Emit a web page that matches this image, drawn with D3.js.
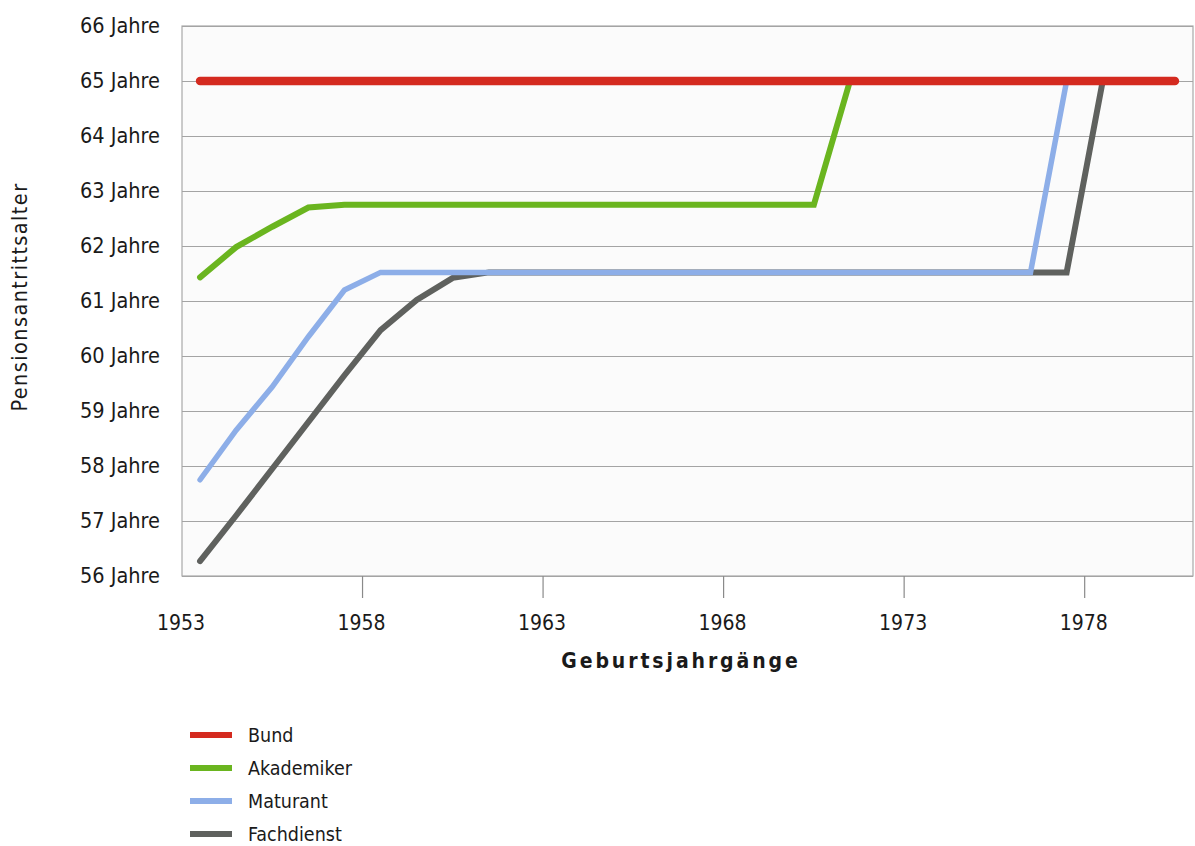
<!DOCTYPE html>
<html lang="de">
<head>
<meta charset="utf-8">
<title>Pensionsantrittsalter nach Geburtsjahrgängen</title>
<script src="https://cdn.jsdelivr.net/npm/d3@7"></script>
<style>
  html, body { margin: 0; padding: 0; background: #ffffff; }
  svg { display: block; }
  text { font-family: "DejaVu Sans Condensed", "DejaVu Sans", sans-serif; fill: #1a1a1a; }
</style>
</head>
<body>
<svg id="chart" width="1195" height="846"></svg>
<script>
// Birth cohorts (Geburtsjahrgänge)
const years = d3.range(1953, 1981);

// Retirement age per cohort, in years
const bund = years.map(() => 65);
const akademiker = [61.43, 61.98, 62.35, 62.7, 62.75, 62.75, 62.75, 62.75, 62.75, 62.75,
                    62.75, 62.75, 62.75, 62.75, 62.75, 62.75, 62.75, 62.75, 65, 65,
                    65, 65, 65, 65, 65, 65, 65, 65];
const maturant = [57.75, 58.65, 59.44, 60.35, 61.2, 61.52, 61.52, 61.52, 61.52, 61.52,
                  61.52, 61.52, 61.52, 61.52, 61.52, 61.52, 61.52, 61.52, 61.52, 61.52,
                  61.52, 61.52, 61.52, 61.52, 65, 65, 65, 65];
const fachdienst = [56.27, 57.1, 57.95, 58.8, 59.65, 60.47, 61.02, 61.42, 61.52, 61.52,
                    61.52, 61.52, 61.52, 61.52, 61.52, 61.52, 61.52, 61.52, 61.52, 61.52,
                    61.52, 61.52, 61.52, 61.52, 61.52, 65, 65, 65];

const seriesNames = ["Bund", "Akademiker", "Maturant", "Fachdienst"];
const seriesValues = [bund, akademiker, maturant, fachdienst];

// Axis labels
const yTicks = d3.range(56, 67);
const xTickYears = [1953, 1958, 1963, 1968, 1973, 1978];
const yTitle = "Pensionsantrittsalter";
const xTitle = "Geburtsjahrgänge";

const colors = {
  "Bund": "#d42a1f",
  "Akademiker": "#6ab51f",
  "Maturant": "#8daee8",
  "Fachdienst": "#5f615e"
};
const widths = { "Bund": 8.5, "Akademiker": 6, "Maturant": 5.5, "Fachdienst": 6 };

const svg = d3.select("#chart");
const plot = { left: 182, right: 1193, top: 26, bottom: 576 };

const x = d3.scaleBand().domain(years).range([plot.left, plot.right]);
const y = d3.scaleLinear().domain([56, 66]).range([plot.bottom, plot.top]);
const cx = yr => x(yr) + x.bandwidth() / 2;

// plot background and frame
svg.append("rect")
  .attr("x", plot.left).attr("y", plot.top)
  .attr("width", plot.right - plot.left).attr("height", plot.bottom - plot.top)
  .attr("fill", "#fbfbfb").attr("stroke", "#a9a9a9").attr("stroke-width", 1.2);

// horizontal gridlines + y labels
const yAxis = d3.axisLeft(y).tickValues(yTicks)
  .tickSize(-(plot.right - plot.left)).tickPadding(22)
  .tickFormat(d => d + " Jahre");
const gy = svg.append("g").attr("transform", `translate(${plot.left},0)`).call(yAxis);
gy.select(".domain").remove();
gy.selectAll(".tick line").attr("stroke", "#a4a4a4").attr("stroke-width", 1.2);
gy.selectAll(".tick text").attr("font-size", 21.5).style("fill", "#1a1a1a")
  .attr("font-family", "DejaVu Sans Condensed, DejaVu Sans, sans-serif");

// x axis: ticks at the start of each labelled cohort
const gx = svg.append("g").attr("class", "xaxis");
gx.selectAll("line").data(xTickYears.slice(1)).join("line")
  .attr("x1", d => x(d)).attr("x2", d => x(d))
  .attr("y1", plot.bottom).attr("y2", plot.bottom + 22)
  .attr("stroke", "#8a8a8a").attr("stroke-width", 1.2);
gx.selectAll("text").data(xTickYears).join("text")
  .attr("x", d => x(d) - 1).attr("y", plot.bottom + 54)
  .attr("text-anchor", "middle").attr("font-size", 21)
  .text(d => d);

// axis titles
svg.append("text")
  .attr("transform", `translate(27,${297}) rotate(-90)`)
  .attr("text-anchor", "middle").attr("font-size", 21.5)
  .attr("letter-spacing", 1.4)
  .text(yTitle);
svg.append("text")
  .attr("x", 681).attr("y", 668)
  .attr("text-anchor", "middle").attr("font-size", 21).attr("font-weight", "bold")
  .attr("letter-spacing", 2.9)
  .text(xTitle);

// series lines (Bund drawn last so it sits on top)
const line = d3.line().x((d, i) => cx(years[i])).y(d => y(d));
const drawOrder = [3, 2, 1, 0];
svg.append("g").selectAll("path").data(drawOrder).join("path")
  .attr("d", i => line(seriesValues[i]))
  .attr("fill", "none")
  .attr("stroke", i => colors[seriesNames[i]])
  .attr("stroke-width", i => widths[seriesNames[i]])
  .attr("stroke-linecap", "round")
  .attr("stroke-linejoin", "miter");

// legend
const legend = svg.append("g").attr("transform", "translate(190,735)");
const items = legend.selectAll("g").data(seriesNames).join("g")
  .attr("transform", (d, i) => `translate(0,${i * 33})`);
items.append("line")
  .attr("x1", 0).attr("x2", 42).attr("y1", 0).attr("y2", 0)
  .attr("stroke", d => colors[d]).attr("stroke-width", 6);
items.append("text")
  .attr("x", 58).attr("y", 7)
  .attr("font-size", 19.5)
  .text(d => d);
</script>
</body>
</html>
